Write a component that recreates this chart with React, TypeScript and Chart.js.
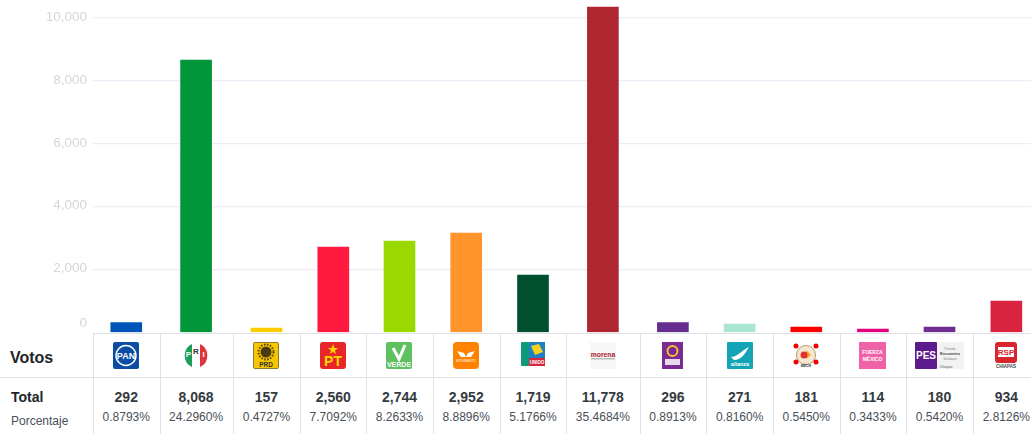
import React, { useEffect, useRef } from "react";
import { Chart, registerables, CategoryScale } from "chart.js";

const categories = ["PAN", "PRI", "PRD", "PT", "VERDE", "MC", "Chiapas Unido", "morena", "Encuentro", "alianza", "Mover", "Fuerza México", "PES", "RSP"];
const barValues = [312, 8665, 143, 2719, 2909, 3164, 1828, 10350, 312, 270, 175, 111, 175, 1002];
const barColors = ["#0056b8", "#009639", "#ffcc00", "#ff1a40", "#99d900", "#ff952b", "#005030", "#b02630", "#662d91", "#a8e6cf", "#ff0000", "#e6007e", "#6f2c91", "#d9233f"];
const totals = ["292", "8,068", "157", "2,560", "2,744", "2,952", "1,719", "11,778", "296", "271", "181", "114", "180", "934"];
const percents = ["0.8793%", "24.2960%", "0.4727%", "7.7092%", "8.2633%", "8.8896%", "5.1766%", "35.4684%", "0.8913%", "0.8160%", "0.5450%", "0.3433%", "0.5420%", "2.8126%"];
const yTicks = [0, 2000, 4000, 6000, 8000, 10000];

const columnEdges = [93, 159.5, 232.7, 300.3, 366.3, 432.7, 499.7, 566.3, 639.5, 706.3, 773, 839.5, 906.3, 972.7, 1040];
const FONT = '"Liberation Sans", Arial, sans-serif';
const BORDER = "#dee2e6";

class ColumnScale extends CategoryScale {
  static id = "column";
  static defaults = CategoryScale.defaults;
  getPixelForValue(value: any) {
    const i = typeof value === "number" ? value : (this as any).parse(value);
    return (columnEdges[i] + columnEdges[i + 1]) / 2;
  }
}
Chart.register(...registerables, ColumnScale as any);

const liftZeroLabel = {
  id: "liftZeroLabel",
  beforeDraw(chart: any) {
    const items = chart.scales.y.getLabelItems();
    const zero = items.find((it: any) => it.label === "0");
    if (zero && !zero.lifted) {
      zero.options.translation[1] -= 8;
      zero.lifted = true;
    }
  },
};

function Logo({ name }: { name: string }) {
  const txt = { fontFamily: FONT, textAnchor: "middle" as const };
  switch (name) {
    case "PAN":
      return (<svg width="26" height="27"><rect width="26" height="27" rx="2" fill="#0b4da2" /><circle cx="13" cy="13.5" r="10" fill="none" stroke="#fff" strokeWidth="1.4" /><text x="13" y="17" fontSize="9" fontWeight="bold" fill="#fff" {...txt}>PAN</text></svg>);
    case "PRI":
      return (<svg width="26" height="27"><ellipse cx="13" cy="13.5" rx="12" ry="12.5" fill="#fff" /><path d="M9 2 A12 12.5 0 0 0 9 25 Z" fill="#1c9c5a" /><path d="M17 2 A12 12.5 0 0 1 17 25 Z" fill="#e0343c" /><text x="5.5" y="15" fontSize="8" fontWeight="bold" fill="#fff" {...txt}>P</text><text x="13" y="12" fontSize="8" fontWeight="bold" fill="#333" {...txt}>R</text><text x="20.5" y="15" fontSize="8" fontWeight="bold" fill="#fff" {...txt}>I</text></svg>);
    case "PRD":
      return (<svg width="26" height="27"><rect x="0.5" y="0.5" width="25" height="26" rx="1" fill="#f7c600" stroke="#8a7a30" /><circle cx="13" cy="10" r="5.5" fill="#4a3a10" /><circle cx="13" cy="10" r="7.5" fill="none" stroke="#4a3a10" strokeWidth="2" strokeDasharray="1.5 1.5" /><text x="13" y="25" fontSize="6.5" fontWeight="bold" fill="#333" {...txt}>PRD</text></svg>);
    case "PT":
      return (<svg width="26" height="27"><rect width="26" height="27" rx="3" fill="#e8262a" /><polygon points="13,2 14.5,6 18,6 15,8.5 16,12 13,10 10,12 11,8.5 8,6 11.5,6" fill="#ffd400" /><text x="13" y="24" fontSize="14" fontWeight="bold" fill="#ffd400" {...txt}>PT</text></svg>);
    case "VERDE":
      return (<svg width="26" height="27"><rect width="26" height="27" rx="2" fill="#5fc05f" /><path d="M7 6 L13 17 L19 3" fill="none" stroke="#fff" strokeWidth="3" /><text x="13" y="25" fontSize="7" fontWeight="bold" fill="#fff" {...txt}>VERDE</text></svg>);
    case "MC":
      return (<svg width="26" height="27"><rect width="26" height="27" rx="4" fill="#ff8200" /><path d="M4 9 L11 11 L13 15 L15 11 L22 9 L18 15 L8 15 Z" fill="#fff" /><text x="13" y="20" fontSize="3" fill="#fff" {...txt}>MOVIMIENTO</text></svg>);
    case "Chiapas Unido":
      return (<svg width="24" height="27"><rect x="0" y="0" width="8" height="24" rx="1" fill="#0d9a7a" /><rect x="8" y="0" width="16" height="16" fill="#1f7fc0" /><polygon points="10,4 18,2 22,10 14,13" fill="#f4d21f" /><rect x="8" y="16" width="16" height="8" fill="#d8263c" /><text x="16" y="22" fontSize="4.5" fontWeight="bold" fill="#fff" {...txt}>UNIDO</text></svg>);
    case "morena":
      return (<svg width="26" height="27"><rect width="26" height="27" fill="#f7f7f7" /><text x="13" y="15" fontSize="6.8" fontWeight="bold" fill="#a8202c" {...txt}>morena</text><rect x="1" y="16" width="24" height="1.5" fill="#bbb" /></svg>);
    case "Encuentro":
      return (<svg width="21" height="27"><rect width="21" height="27" fill="#7b2a94" /><circle cx="10.5" cy="9" r="5" fill="none" stroke="#f1c232" strokeWidth="2" /><rect x="3" y="17" width="15" height="6" fill="#e8d8ee" /></svg>);
    case "alianza":
      return (<svg width="26" height="27"><rect width="26" height="27" rx="1" fill="#13a5b5" /><path d="M4 15 C10 15 14 9 22 5 C18 12 14 18 7 18 Z" fill="#fff" /><text x="13" y="24" fontSize="5.5" fontWeight="bold" fill="#fff" {...txt}>alianza</text></svg>);
    case "Mover":
      return (<svg width="26" height="27"><circle cx="13" cy="13" r="9.5" fill="#f5e8d0" stroke="#b89a70" /><path d="M13 8 L18 13 L13 17 Z" fill="#f0a818" /><circle cx="11" cy="13" r="3.5" fill="#e03030" /><circle cx="3" cy="4" r="2.5" fill="#f00000" /><circle cx="23" cy="4" r="2.5" fill="#f00000" /><circle cx="3" cy="20" r="2.5" fill="#f00000" /><circle cx="23" cy="20" r="2.5" fill="#f00000" /><text x="13" y="25" fontSize="3.5" fontWeight="bold" fill="#333" {...txt}>MECH</text></svg>);
    case "Fuerza México":
      return (<svg width="27" height="27"><rect width="27" height="27" fill="#f062a8" /><text x="13.5" y="12" fontSize="5" fontWeight="bold" fill="#fff" {...txt}>FUERZA</text><text x="13.5" y="19" fontSize="5" fontWeight="bold" fill="#fff" {...txt}>MÉXICO</text></svg>);
    case "PES":
      return (<svg width="49" height="27"><rect width="22" height="27" rx="1" fill="#5d1a8c" /><text x="11" y="17" fontSize="10" fontWeight="bold" fill="#fff" {...txt}>PES</text><rect x="22" y="0" width="27" height="27" fill="#f2f2f2" /><text x="35" y="8" fontSize="3.5" fill="#888" {...txt}>Partido</text><text x="35" y="13" fontSize="4" fontWeight="bold" fill="#444" {...txt}>Encuentro</text><text x="35" y="18" fontSize="3.5" fill="#888" {...txt}>Solidario</text><text x="31" y="26" fontSize="3.5" fill="#555" {...txt}>Chiapas</text></svg>);
    case "RSP":
      return (<svg width="26" height="27"><rect x="2" y="0" width="22" height="21" rx="3" fill="#d9262c" /><rect x="5" y="5" width="16" height="10" fill="#fff" /><text x="13" y="13" fontSize="8" fontWeight="bold" fill="#d9262c" {...txt}>RSP</text><text x="13" y="26" fontSize="4.5" fontWeight="bold" fill="#444" {...txt}>CHIAPAS</text></svg>);
    default:
      return null;
  }
}

const abs = (s: React.CSSProperties): React.CSSProperties => ({ position: "absolute", whiteSpace: "nowrap", ...s });

export default function App() {
  const ref = useRef<HTMLCanvasElement>(null);
  useEffect(() => {
    const chart = new Chart(ref.current!, {
      type: "bar",
      data: {
        labels: categories,
        datasets: [{ data: barValues, backgroundColor: barColors, barThickness: 31 } as any],
      },
      plugins: [liftZeroLabel],
      options: {
        animation: false,
        responsive: false,
        layout: { padding: { top: 0, right: 0, bottom: 0.5, left: 0 } },
        plugins: { legend: { display: false }, tooltip: { enabled: false }, title: { display: false } },
        scales: {
          x: { type: "column" as any, display: false },
          y: {
            min: 0,
            max: 10572,
            afterBuildTicks: (s: any) => { s.ticks = yTicks.map((value) => ({ value })); },
            afterFit: (s: any) => { s.width = 93; s.paddingTop = 0; s.paddingBottom = 0; },
            border: { display: false },
            grid: { color: (c: any) => (c.tick && c.tick.value === 0 ? "rgba(0,0,0,0)" : "#f4e9f6"), lineWidth: 1.2, drawTicks: false },
            ticks: {
              padding: 6,
              labelOffset: -1,
              color: "#d6d6d6",
              font: { family: FONT, size: 13.5 },
              callback: (v: any) => Number(v).toLocaleString("en-US"),
            },
          },
        },
      },
    });
    return () => chart.destroy();
  }, []);

  return (
    <div style={{ position: "fixed", left: 0, top: 0, width: 1031, height: 434, overflow: "hidden", background: "#fff", fontFamily: FONT }}>
      <canvas ref={ref} width={1031} height={333} style={{ position: "absolute", left: 0, top: 0, display: "block" }} />
      <div style={abs({ left: 93, top: 333, width: 938, height: 1, background: BORDER })} />
      <div style={abs({ left: 0, top: 377, width: 1031, height: 1, background: BORDER })} />
      <div style={abs({ left: 10, top: 349, fontSize: 16, lineHeight: "18px", fontWeight: "bold", color: "#212529" })}>Votos</div>
      <div style={abs({ left: 11, top: 388, fontSize: 14, lineHeight: "18px", fontWeight: "bold", color: "#212529" })}>Total</div>
      <div style={abs({ left: 11, top: 414, fontSize: 12, lineHeight: "14px", color: "#495057" })}>Porcentaje</div>
      {categories.map((name, i) => {
        const left = columnEdges[i];
        const width = columnEdges[i + 1] - left;
        return (
          <React.Fragment key={name}>
            <div style={abs({ left, top: 333, width: 1, height: 101, background: BORDER })} />
            <div style={abs({ left, width, top: 342, height: 27, display: "flex", justifyContent: "center" })}><Logo name={name} /></div>
            <div style={abs({ left, width, top: 388, textAlign: "center", fontSize: 14, lineHeight: "18px", fontWeight: "bold", color: "#343a40" })}>{totals[i]}</div>
            <div style={abs({ left, width, top: 410, textAlign: "center", fontSize: 12, lineHeight: "14px", color: "#495057" })}>{percents[i]}</div>
          </React.Fragment>
        );
      })}
    </div>
  );
}
